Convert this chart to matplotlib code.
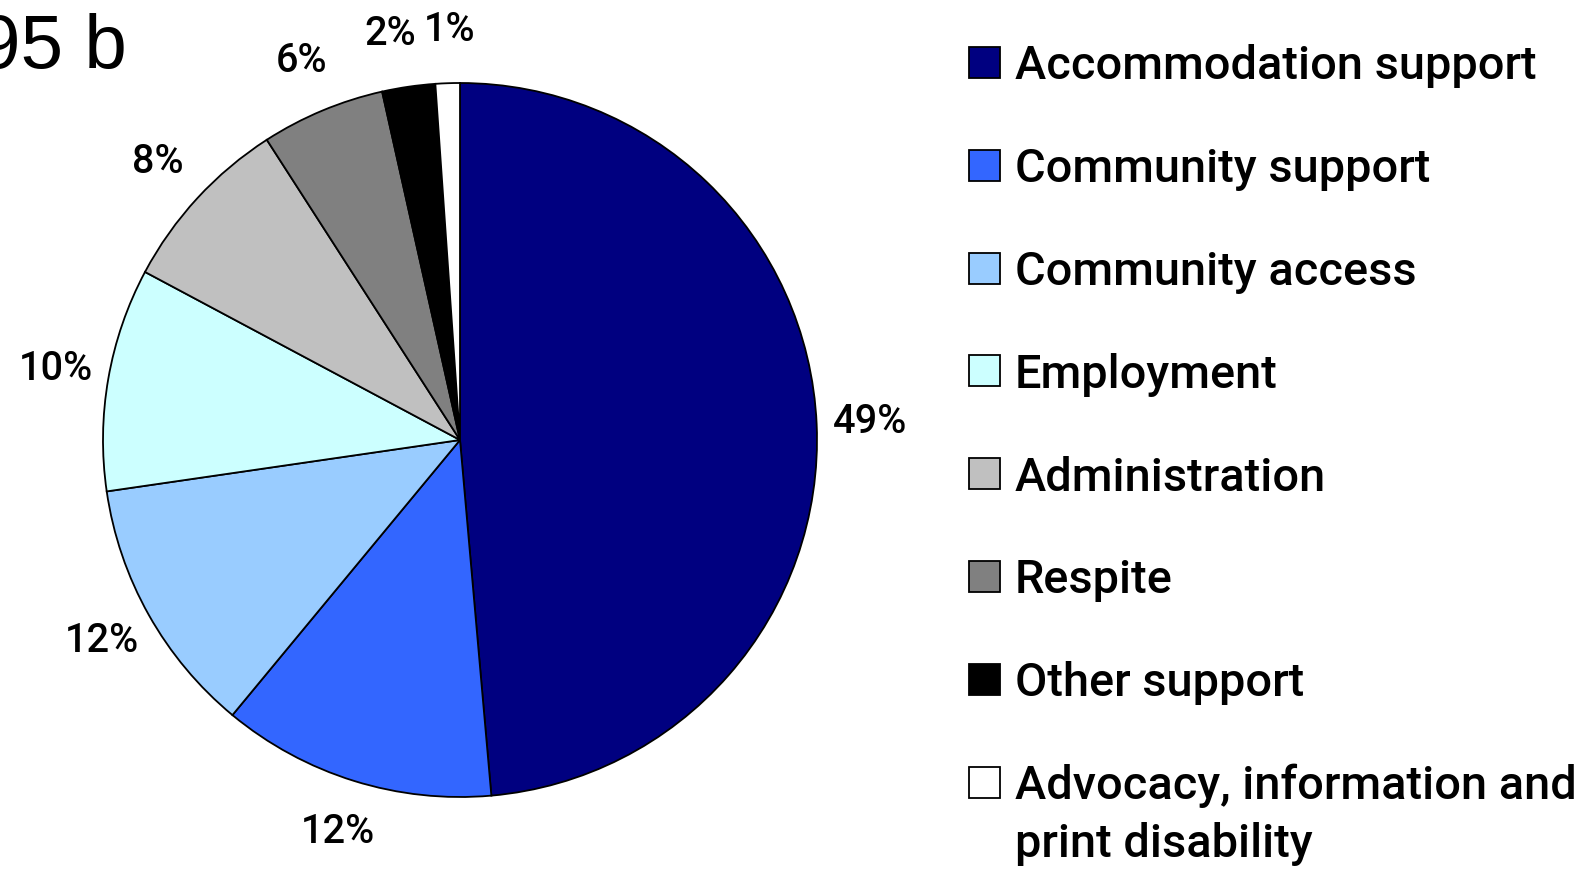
import numpy as np
import matplotlib
matplotlib.use('Agg')
import matplotlib.pyplot as plt
from matplotlib.patches import Rectangle

# data
categories = ['Accommodation support', 'Community support', 'Community access',
              'Employment', 'Administration', 'Respite', 'Other support',
              'Advocacy, information and\nprint disability']
shares = [48.6, 12.4, 11.7, 10.1, 8.1, 5.6, 2.4, 1.1]
colours = ['#000080', '#3366FF', '#99CCFF', '#CCFFFF', '#C0C0C0', '#808080',
           '#000000', '#FFFFFF']
title = '95 b'

lab_font = 'Roboto'
lab_weight = 'medium'

W, H = 1596, 869
fig = plt.figure(figsize=(W / 100, H / 100), dpi=100)
renderer = fig.canvas.get_renderer()


def fit_size(txt, width_px, start=40):
    # font size that makes txt about width_px wide
    t = fig.text(0, 0, txt, fontsize=start, family=lab_font, weight=lab_weight)
    w = t.get_window_extent(renderer).width
    t.remove()
    return start * width_px / w


# pie axes, centre ~ (460, 440) px, radius ~ 357 px
cx, cy, r = 460, 440, 357
ax = fig.add_axes([(cx - r) / W, (H - cy - r) / H, 2 * r / W, 2 * r / H])
pct_size = fit_size('49%', 74)
wedges, texts, autotexts = ax.pie(
    shares, colors=colours, startangle=90, counterclock=False,
    autopct='%.0f%%', pctdistance=1.15,
    wedgeprops=dict(edgecolor='black', linewidth=1.3),
    textprops=dict(fontsize=pct_size, family=lab_font, weight=lab_weight))
ax.set_xlim(-1, 1)
ax.set_ylim(-1, 1)
ax.set_aspect('equal')

# the two thin slices' labels sit side by side, pull them apart a bit
x, y = autotexts[6].get_position()
autotexts[6].set_position((x - 0.03, y))
x, y = autotexts[7].get_position()
autotexts[7].set_position((x + 0.01, y))

# title, partially cut off at the left edge like the original
fig.text(127 / W, 1 - 68 / H, title, ha='right', va='baseline',
         fontsize=55, family='Liberation Sans')

# legend drawn by hand
leg_size = fit_size('Advocacy, information and', 560)
sq = 31
x0 = 969
y_first = 62.5
step = 102.8
for i, (name, col) in enumerate(zip(categories, colours)):
    yc = y_first + i * step
    fig.patches.append(Rectangle((x0 / W, 1 - (yc + sq / 2) / H), sq / W, sq / H,
                                 transform=fig.transFigure, facecolor=col,
                                 edgecolor='black', linewidth=1.3))
    for k, line in enumerate(name.split('\n')):
        fig.text(1015 / W, 1 - (yc + 17 + k * 58) / H, line, ha='left',
                 va='baseline', fontsize=leg_size, family=lab_font,
                 weight=lab_weight)

fig.savefig('out.png', dpi=100)
